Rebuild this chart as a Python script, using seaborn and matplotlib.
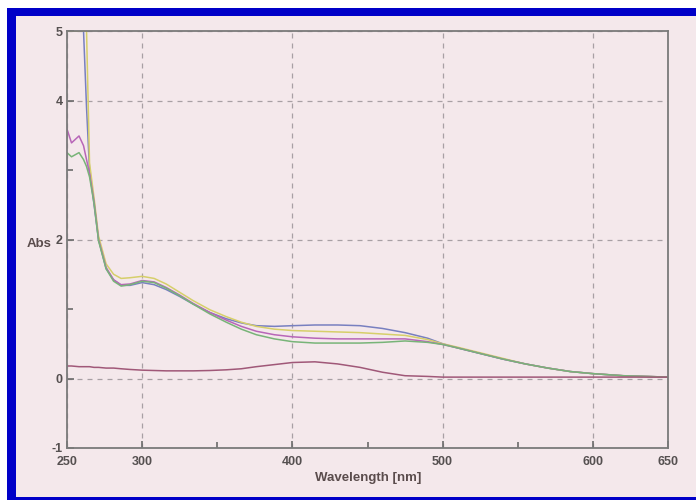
import numpy as np
import pandas as pd
import matplotlib
matplotlib.use("Agg")
import matplotlib.pyplot as plt
from matplotlib.patches import Rectangle
import seaborn as sns

wavelength = [250, 253, 258, 261, 263, 265, 268, 271, 276, 281, 286, 292, 300, 308, 316,
              325, 334, 345, 356, 366, 376, 388, 400, 415, 430, 445, 460, 475, 490, 500,
              510, 525, 540, 555, 570, 585, 600, 620, 650]

abs_blue = [5.0, 5.0, 5.0, 5.0, 3.9, 3.0, 2.5, 2.0, 1.58, 1.42, 1.34, 1.34, 1.38, 1.35, 1.28,
            1.18, 1.07, 0.95, 0.86, 0.80, 0.76, 0.75, 0.76, 0.77, 0.77, 0.76, 0.72, 0.66, 0.58,
            0.50, 0.44, 0.36, 0.28, 0.21, 0.15, 0.10, 0.07, 0.04, 0.02]
abs_yellow = [5.0, 5.0, 5.0, 5.0, 5.0, 3.1, 2.6, 2.05, 1.65, 1.50, 1.44, 1.45, 1.47, 1.44, 1.36,
              1.24, 1.12, 0.99, 0.89, 0.81, 0.75, 0.71, 0.69, 0.68, 0.67, 0.66, 0.64, 0.62, 0.56,
              0.50, 0.45, 0.37, 0.29, 0.21, 0.15, 0.10, 0.07, 0.04, 0.02]
abs_magenta = [3.59, 3.39, 3.49, 3.35, 3.15, 2.95, 2.55, 2.0, 1.60, 1.42, 1.35, 1.36, 1.41, 1.39, 1.31,
               1.20, 1.08, 0.95, 0.84, 0.75, 0.68, 0.63, 0.60, 0.58, 0.57, 0.57, 0.57, 0.57, 0.53,
               0.49, 0.44, 0.36, 0.28, 0.21, 0.15, 0.10, 0.07, 0.04, 0.02]
abs_green = [3.25, 3.19, 3.25, 3.15, 3.05, 2.90, 2.52, 1.98, 1.58, 1.40, 1.33, 1.35, 1.40, 1.38, 1.30,
             1.19, 1.07, 0.93, 0.81, 0.71, 0.63, 0.57, 0.53, 0.51, 0.51, 0.51, 0.52, 0.54, 0.52,
             0.49, 0.44, 0.36, 0.28, 0.21, 0.15, 0.10, 0.07, 0.04, 0.02]
abs_blank = [0.18, 0.18, 0.17, 0.17, 0.17, 0.17, 0.16, 0.16, 0.15, 0.15, 0.14, 0.13, 0.12, 0.115, 0.11,
             0.11, 0.11, 0.115, 0.125, 0.14, 0.17, 0.20, 0.23, 0.24, 0.21, 0.16, 0.09, 0.04, 0.03,
             0.02, 0.02, 0.02, 0.02, 0.02, 0.02, 0.02, 0.02, 0.02, 0.02]

series_names = ["S1", "S2", "S3", "S4", "Blank"]
series_values = [abs_blue, abs_yellow, abs_magenta, abs_green, abs_blank]
series_colors = ["#7880c0", "#d6cf6a", "#b866b8", "#78b478", "#a05878"]

x_ticks = [250, 300, 400, 500, 600, 650]
x_minor = [350, 450, 550]
y_ticks = [-1, 0, 2, 4, 5]
y_minor = [1, 3]

frames = []
for name, vals in zip(series_names, series_values):
    frames.append(pd.DataFrame({"wl": wavelength, "abs": vals, "series": name}))
df = pd.concat(frames, ignore_index=True)

sns.set_style("ticks")
plt.rcParams["font.family"] = ["Liberation Sans", "DejaVu Sans"]

W, H = 696, 500
fig = plt.figure(figsize=(W / 100, H / 100), dpi=100)
fig.patch.set_facecolor("white")
bg = "#f4e8eb"
fig.patches.append(Rectangle((7, 0), W - 7, H - 8, transform=None, facecolor="#0000c8",
                             edgecolor="none", zorder=-10))
fig.patches.append(Rectangle((16, 3), W - 16, H - 16 - 3, transform=None, facecolor=bg,
                             edgecolor="none", zorder=-9))

ax = fig.add_axes([67 / W, (H - 448) / H, (668 - 67) / W, (448 - 31) / H])
ax.set_facecolor("none")
ax.set_zorder(2)

sns.lineplot(data=df, x="wl", y="abs", hue="series", palette=series_colors,
             hue_order=series_names, linewidth=1.1, legend=False, ax=ax, sort=False)

ax.set_xlim(250, 650)
ax.set_ylim(-1, 5)
ax.set_xticks(x_ticks)
ax.set_xticks(x_minor, minor=True)
ax.set_yticks(y_ticks)
ax.set_yticks(y_minor, minor=True)
ax.set_xticklabels([str(v) for v in x_ticks])
ax.set_yticklabels([str(v) for v in y_ticks])

for s in ax.spines.values():
    s.set_visible(True)
    s.set_color("#7a7a7a")
    s.set_linewidth(1.3)

ax.grid(True, which="major", linestyle=(0, (4, 4)), color="#a8a0a4", linewidth=0.9)
ax.tick_params(which="both", direction="in", color="#6a6a6a", width=1.2,
               labelsize=9, labelcolor="#555050")
ax.tick_params(which="major", length=5)
ax.tick_params(which="minor", length=4)
ax.tick_params(axis="x", pad=6)
ax.tick_params(axis="y", pad=3)
for lab in ax.get_xticklabels() + ax.get_yticklabels():
    lab.set_fontweight("bold")

ax.set_xlabel("")
ax.set_ylabel("")
fig.text(315 / W, (H - 478) / H, "Wavelength [nm]", fontsize=9.5, fontweight="bold",
         color="#5a4c4c", ha="left", va="center")
fig.text(27 / W, (H - 244) / H, "Abs", fontsize=9.5, fontweight="bold",
         color="#5a4c4c", ha="left", va="center")

fig.savefig("out.png", dpi=100, facecolor=fig.get_facecolor())
